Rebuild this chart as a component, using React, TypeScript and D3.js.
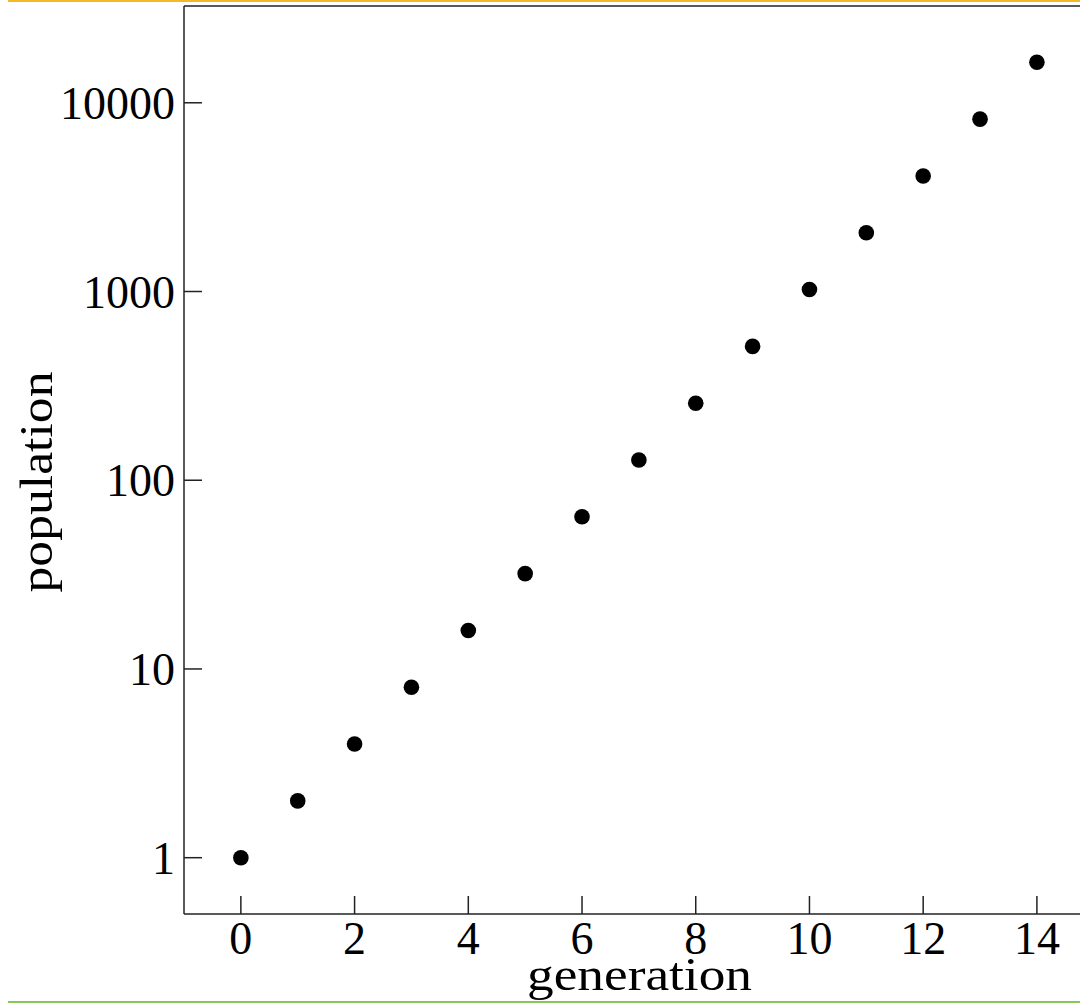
import React from "react";
import * as d3 from "d3";

const generations: number[] = [0, 1, 2, 3, 4, 5, 6, 7, 8, 9, 10, 11, 12, 13, 14];
const populations: number[] = [1, 2, 4, 8, 16, 32, 64, 128, 256, 512, 1024, 2048, 4096, 8192, 16384];
const xTicks: number[] = [0, 2, 4, 6, 8, 10, 12, 14];
const yTicks: number[] = [1, 10, 100, 1000, 10000];

const W = 1080;
const H = 1004;
const left = 184;
const top = 6;
const bottom = 914;
const FONT = "'Liberation Serif', 'Times New Roman', serif";

export default function App() {
  const x = d3.scaleLinear().domain([-1, 15]).range([left, left + 16 * 56.86]);
  const y = d3.scaleLog().domain([0.5, 32768]).range([bottom + 0.5, top - 0.5]);
  const tickLen = 18;
  const axisColor = "#222";

  return (
    <svg
      width={W}
      height={H}
      style={{ position: "absolute", left: 0, top: 0, background: "#fff" }}
    >
      <line x1={8} x2={W} y1={1} y2={1} stroke="#f6b926" strokeWidth={2} />
      <line x1={8} x2={W} y1={1002} y2={1002} stroke="#8cc65a" strokeWidth={2} />

      {/* frame */}
      <line x1={left} x2={W} y1={top} y2={top} stroke={axisColor} strokeWidth={1.5} />
      <line x1={left} x2={left} y1={top} y2={bottom} stroke={axisColor} strokeWidth={1.5} />
      <line x1={left} x2={W} y1={bottom} y2={bottom} stroke={axisColor} strokeWidth={1.5} />

      {/* x ticks */}
      {xTicks.map((t) => (
        <g key={"x" + t}>
          <line x1={x(t)} x2={x(t)} y1={bottom} y2={bottom - tickLen} stroke={axisColor} strokeWidth={1.5} />
          <text
            x={x(t)}
            y={bottom + 40}
            textAnchor="middle"
            fontFamily={FONT}
            fontSize={46}
            fill="#000"
          >
            {t}
          </text>
        </g>
      ))}

      {/* y ticks */}
      {yTicks.map((t) => (
        <g key={"y" + t}>
          <line x1={left} x2={left + tickLen} y1={y(t)} y2={y(t)} stroke={axisColor} strokeWidth={1.5} />
          <text
            x={left - 9}
            y={y(t) + 16}
            textAnchor="end"
            fontFamily={FONT}
            fontSize={46}
            fill="#000"
          >
            {t}
          </text>
        </g>
      ))}

      {/* points */}
      {generations.map((g, i) => (
        <circle key={"p" + g} cx={x(g)} cy={y(populations[i])} r={7.8} fill="#000" />
      ))}

      {/* axis titles */}
      <text
        x={639.5}
        y={990}
        textAnchor="middle"
        fontFamily={FONT}
        fontSize={46}
        textLength={225}
        lengthAdjust="spacingAndGlyphs"
        fill="#000"
      >
        generation
      </text>
      <text
        transform={`translate(52, 482) rotate(-90)`}
        textAnchor="middle"
        fontFamily={FONT}
        fontSize={46}
        textLength={221}
        lengthAdjust="spacingAndGlyphs"
        fill="#000"
      >
        population
      </text>
    </svg>
  );
}
